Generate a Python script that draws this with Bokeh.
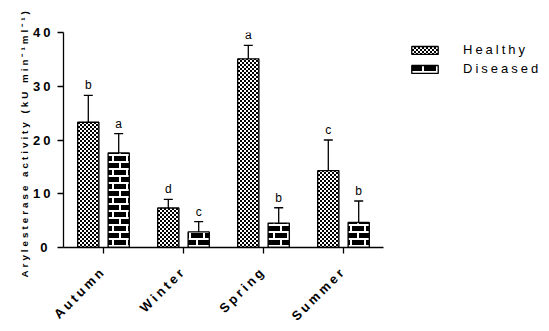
import math
from bokeh.plotting import figure
from bokeh.models import (Range1d, FixedTicker, Legend, LegendItem, CanvasTexture,
                          InlineStyleSheet, LinearAxis, Title)
from bokeh.core.properties import value
from bokeh.embed import file_html
from bokeh.resources import INLINE

# ---- data ----
seasons = ["Autumn", "Winter", "Spring", "Summer"]
healthy = [23.3, 7.35, 35.1, 14.3]
healthy_sd = [5.0, 1.6, 2.5, 5.7]
diseased = [17.6, 2.9, 4.55, 4.65]
diseased_sd = [3.6, 1.9, 2.85, 4.0]
healthy_letters = ["b", "d", "a", "c"]
diseased_letters = ["a", "c", "b", "b"]
y_ticks = [0, 10, 20, 30, 40]

FONT = "Liberation Sans"
pos = list(range(len(seasons)))
hx = [i - 0.19 for i in pos]
dx = [i + 0.19 for i in pos]
h_top = [v + e for v, e in zip(healthy, healthy_sd)]
d_top = [v + e for v, e in zip(diseased, diseased_sd)]

checker = CanvasTexture(code="""
const S = 4;
ctx.canvas.width = S; ctx.canvas.height = S;
ctx.fillStyle = '#ffffff'; ctx.fillRect(0, 0, S, S);
ctx.fillStyle = '#000000';
ctx.fillRect(0, 0, 2, 2); ctx.fillRect(2, 2, 2, 2);
""")
brick = CanvasTexture(code="""
const W = 14, H = 14, r = 7, w = 2;
ctx.canvas.width = W; ctx.canvas.height = H;
ctx.fillStyle = '#000000'; ctx.fillRect(0, 0, W, H);
ctx.fillStyle = '#ffffff';
ctx.fillRect(0, 0, W, w);
ctx.fillRect(0, r, W, w);
ctx.fillRect(0, 0, w, r);
ctx.fillRect(r, r, w, r);
""")

X0, X1 = -0.5, 5.575   # frame spans to the right edge; axis line bounded to the data
SHIFT = 0.16

p = figure(width=549, height=331, output_backend="svg", toolbar_location=None,
           x_range=Range1d(X0, X1), y_range=Range1d(0, 40),
           min_border_left=63, min_border_right=0, min_border_top=32,
           min_border_bottom=84)
p.stylesheets = [InlineStyleSheet(css=":host { letter-spacing: 3px; }")]
p.outline_line_color = None
p.grid.visible = False

hb = p.vbar(x=hx, top=healthy, width=0.265, bottom=0, fill_color="white",
            line_color="black", line_width=1.3,
            hatch_pattern=value("checker"), hatch_extra={"checker": checker})
db = p.vbar(x=dx, top=diseased, width=0.265, bottom=0, fill_color="black",
            line_color="black", line_width=1.3,
            hatch_pattern=value("brick"), hatch_extra={"brick": brick})

for xs, v, t in ((hx, healthy, h_top), (dx, diseased, d_top)):
    p.segment(x0=xs, y0=v, x1=xs, y1=t, line_color="black", line_width=1.3)
    p.scatter(x=xs, y=t, marker="dash", size=9, line_color="black", line_width=1.3)

for xs, t, labs in ((hx, h_top, healthy_letters), (dx, d_top, diseased_letters)):
    p.text(x=xs, y=t, text=labs, text_align="center", text_baseline="alphabetic",
           y_offset=-10, text_font=value(FONT), text_font_size="12px",
           text_color="black")

# main axes
p.xaxis.ticker = FixedTicker(ticks=pos)
p.xaxis.bounds = (-0.5, 3.5)
p.xaxis.major_label_overrides = {i: "" for i in pos}
p.xaxis.major_label_standoff = 0
p.yaxis.ticker = FixedTicker(ticks=y_ticks)
for ax in (p.xaxis, p.yaxis):
    ax.axis_line_width = 1.3
    ax.axis_line_color = "black"
    ax.major_tick_line_color = "black"
    ax.major_tick_line_width = 1.3
    ax.major_tick_out = 6
    ax.major_tick_in = 0
    ax.minor_tick_line_color = None
p.yaxis.major_label_text_font = FONT
p.yaxis.major_label_text_font_style = "bold"
p.yaxis.major_label_text_font_size = "13px"
p.yaxis.major_label_text_color = "black"
p.yaxis.major_label_standoff = 10

# season labels (offset axis compensates for the letter spacing)
p.extra_x_ranges = {"lbl": Range1d(X0 + SHIFT, X1 + SHIFT)}
lab_axis = LinearAxis(x_range_name="lbl", ticker=FixedTicker(ticks=pos),
                      major_label_overrides={i: s for i, s in zip(pos, seasons)},
                      major_label_orientation=math.pi / 4,
                      axis_line_color=None, major_tick_line_color=None,
                      minor_tick_line_color=None, major_tick_out=0, major_tick_in=0,
                      major_label_standoff=28,
                      major_label_text_font=FONT, major_label_text_font_style="bold",
                      major_label_text_font_size="13px", major_label_text_color="black")
p.add_layout(lab_axis, "below")

ylab = Title(text="Arylesterase activity (kU min\u207b\u00b9ml\u207b\u00b9)",
             align="left", offset=-30, standoff=2,
             text_font=FONT, text_font_style="bold", text_font_size="9.8px",
             text_color="black")
p.add_layout(ylab, "left")

legend = Legend(items=[LegendItem(label="Healthy", renderers=[hb]),
                       LegendItem(label="Diseased", renderers=[db])],
                location=(345, 171), padding=0, margin=0, spacing=4,
                glyph_width=33, glyph_height=10, label_height=10,
                label_standoff=22, border_line_color=None,
                background_fill_alpha=0,
                label_text_font=FONT, label_text_font_size="13px",
                label_text_color="black")
p.add_layout(legend)

open("out.html", "w").write(file_html(p, INLINE))
